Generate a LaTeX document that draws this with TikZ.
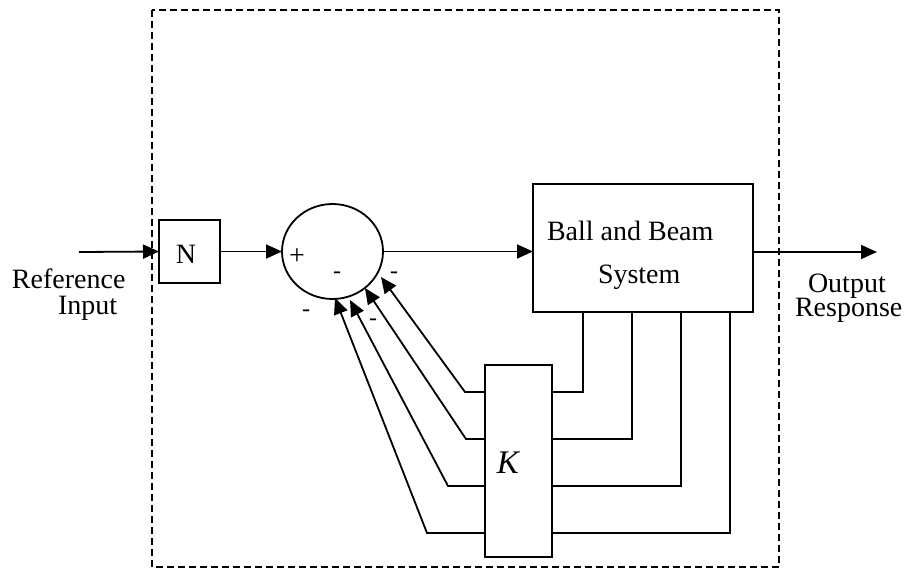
\documentclass[tikz,border=0pt]{standalone}
\usepackage{fontspec}
\setmainfont{Liberation Serif}
\usetikzlibrary{arrows.meta,shapes.geometric}
\begin{document}
\begin{tikzpicture}[x=1pt,y=-1pt,
  line width=1.8pt,
  blk/.style={draw,rectangle,inner sep=0pt,outer sep=0pt},
  lbl/.style={inner sep=0pt,outer sep=0pt,font=\fontsize{28}{30}\selectfont},
  sgn/.style={inner sep=0pt,outer sep=0pt,anchor=base,font=\fontsize{24}{26}\selectfont},
  arr/.style={-{Triangle[length=16pt,width=14pt]}},
  wire/.style={line width=1.8pt},
  frame/.style={dash pattern=on 7pt off 4pt,line width=1.6pt}]
\useasboundingbox (0,0) rectangle (906,570);
% dashed frame
\draw[frame] (152,10) rectangle (779,567);
% blocks
\node[blk,minimum width=61pt,minimum height=63pt] (N) at (189.5,251.5) {};
\node[lbl,anchor=base] (Ntxt) at (186,263) {N};
\node[draw,ellipse,minimum width=101pt,minimum height=95pt,inner sep=0pt,outer sep=0pt] (sum) at (332.5,251.5) {};
\node[blk,minimum width=220pt,minimum height=128pt] (plant) at (643,248) {};
\node[lbl,anchor=base west] (ptxt1) at (547,240) {Ball and Beam};
\node[lbl,anchor=base west] (ptxt2) at (598,283) {System};
\node[blk,minimum width=67pt,minimum height=192pt] (K) at (518.5,461) {};
\node[inner sep=0pt,anchor=base,font=\fontsize{33}{35}\selectfont\itshape] (Ktxt) at (508,473) {K};
% labels
\node[lbl,anchor=base west] (ref1) at (12,288) {Reference};
\node[lbl,anchor=base west] (ref2) at (58,314) {Input};
\node[lbl,anchor=base west] (out1) at (808,292) {Output};
\node[lbl,anchor=base west] (out2) at (795,316) {Response};
% signs
\node[sgn,font=\fontsize{28}{30}\selectfont] (plus) at (297,264) {+};
\node[sgn] (m1) at (337,278) {-};
\node[sgn] (m2) at (394,278) {-};
\node[sgn] (m3) at (306,316) {-};
\node[sgn] (m4) at (373,325) {-};
% forward path
\coordinate (in) at (79,252);
\coordinate (out) at (877,252);
\draw[arr] (in) -- (N.west);
\draw[arr] (N.east) -- (sum.west);
\draw[arr] (sum.east) -- (sum.east -| plant.west);
\draw[arr] (plant.east |- out) -- (out);
% feedback: plant to K
\coordinate (r1) at (583,392);
\coordinate (r2) at (632,439);
\coordinate (r3) at (681,486);
\coordinate (r4) at (730,533);
\draw[wire] (plant.south -| r1) |- (K.east |- r1);
\draw[wire] (plant.south -| r2) |- (K.east |- r2);
\draw[wire] (plant.south -| r3) |- (K.east |- r3);
\draw[wire] (plant.south -| r4) |- (K.east |- r4);
% feedback: K to summing junction
\coordinate (l1) at (465,392);
\coordinate (l2) at (466,439);
\coordinate (l3) at (448,486);
\coordinate (l4) at (427,533);
\coordinate (t1) at (381,277);
\coordinate (t2) at (365,288);
\coordinate (t3) at (350,300);
\coordinate (t4) at (335,298);
\draw[wire,arr] (K.west |- l1) -- (l1) -- (t1);
\draw[wire,arr] (K.west |- l2) -- (l2) -- (t2);
\draw[wire,arr] (K.west |- l3) -- (l3) -- (t3);
\draw[wire,arr] (K.west |- l4) -- (l4) -- (t4);
\end{tikzpicture}
\end{document}
